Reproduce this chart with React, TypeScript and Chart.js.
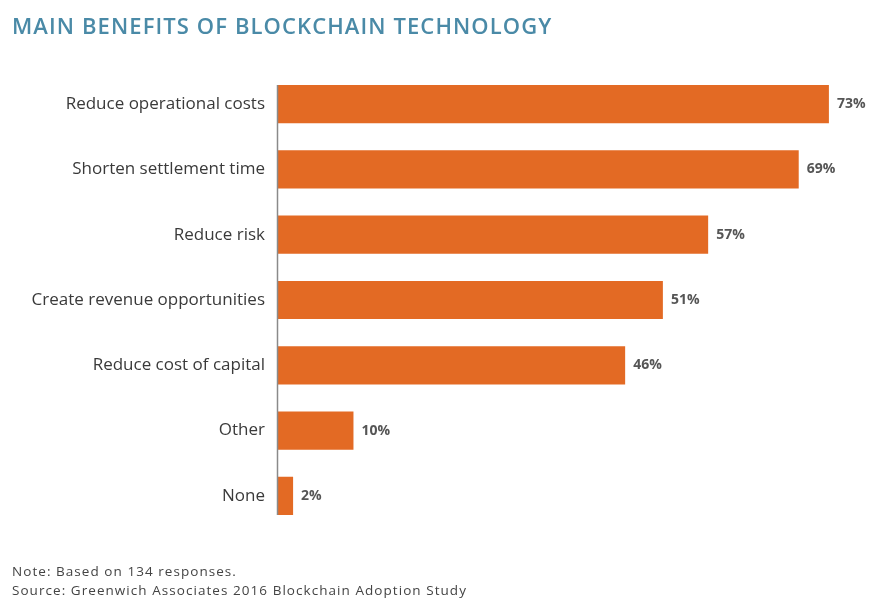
import React, { useEffect, useRef } from "react";
import { Chart, registerables } from "chart.js";

Chart.register(...registerables);

const categories = [
  "Reduce operational costs",
  "Shorten settlement time",
  "Reduce risk",
  "Create revenue opportunities",
  "Reduce cost of capital",
  "Other",
  "None",
];
const values = [73, 69, 57, 51, 46, 10, 2];
const titleText = "MAIN BENEFITS OF BLOCKCHAIN TECHNOLOGY";
const noteText = "Note: Based on 134 responses.";
const sourceText = "Source: Greenwich Associates 2016 Blockchain Adoption Study";

const ORANGE = "#e36a24";
const FONT = "'Open Sans', 'DejaVu Sans', sans-serif";

const extrasPlugin = {
  id: "extras",
  afterDatasetsDraw(chart: any) {
    const { ctx } = chart;
    const meta = chart.getDatasetMeta(0);
    const bars = meta.data;
    if (!bars.length) return;
    const first = bars[0];
    const last = bars[bars.length - 1];
    const x0 = chart.scales.x.getPixelForValue(0);
    ctx.save();
    ctx.strokeStyle = "#8a8a8a";
    ctx.lineWidth = 1.5;
    ctx.beginPath();
    ctx.moveTo(x0 - 0.5, first.y - first.height / 2);
    ctx.lineTo(x0 - 0.5, last.y + last.height / 2);
    ctx.stroke();
    ctx.fillStyle = "#555555";
    ctx.font = `bold 14px ${FONT}`;
    ctx.textAlign = "left";
    ctx.textBaseline = "middle";
    bars.forEach((bar: any, i: number) => {
      ctx.fillText(values[i] + "%", bar.x + 8, bar.y);
    });
    ctx.restore();
  },
};

export default function App() {
  const ref = useRef<HTMLCanvasElement | null>(null);
  useEffect(() => {
    document.body.style.margin = "0";
    if (!ref.current) return;
    const chart = new Chart(ref.current, {
      type: "bar",
      data: {
        labels: categories,
        datasets: [
          {
            data: values,
            backgroundColor: ORANGE,
            borderWidth: 0,
            categoryPercentage: 1,
            barPercentage: 0.585,
          },
        ],
      },
      options: {
        indexAxis: "y",
        animation: false,
        responsive: false,
        maintainAspectRatio: false,
        layout: { padding: { top: 71.5, bottom: 73.5, left: 0, right: 28 } },
        plugins: {
          legend: { display: false },
          tooltip: { enabled: false },
          title: { display: false },
        },
        scales: {
          x: {
            display: false,
            min: 0,
            max: 75,
          },
          y: {
            afterFit(scale: any) {
              scale.width = 278;
            },
            border: { display: false },
            grid: { display: false, drawTicks: false },
            ticks: {
              padding: 13,
              color: "#3a3a3a",
              font: { family: FONT, size: 17 },
            },
          },
        },
      },
      plugins: [extrasPlugin],
    });
    return () => chart.destroy();
  }, []);

  return (
    <div style={{ position: "relative", width: 872, height: 602, background: "#fff", fontFamily: FONT }}>
      <canvas ref={ref} width={872} height={602} style={{ position: "absolute", left: 0, top: 0, width: 872, height: 602 }} />
      <div
        style={{
          position: "absolute",
          left: 12,
          top: 10,
          fontSize: 22,
          lineHeight: "30px",
          fontWeight: 600,
          color: "#4a8aa7",
          letterSpacing: 1.1,
          whiteSpace: "nowrap",
        }}
      >
        {titleText}
      </div>
      <div style={{ position: "absolute", left: 12, top: 562, fontSize: 13.5, color: "#444", whiteSpace: "nowrap", lineHeight: "19px", letterSpacing: 1.05 }}>
        <div>{noteText}</div>
        <div>{sourceText}</div>
      </div>
    </div>
  );
}
